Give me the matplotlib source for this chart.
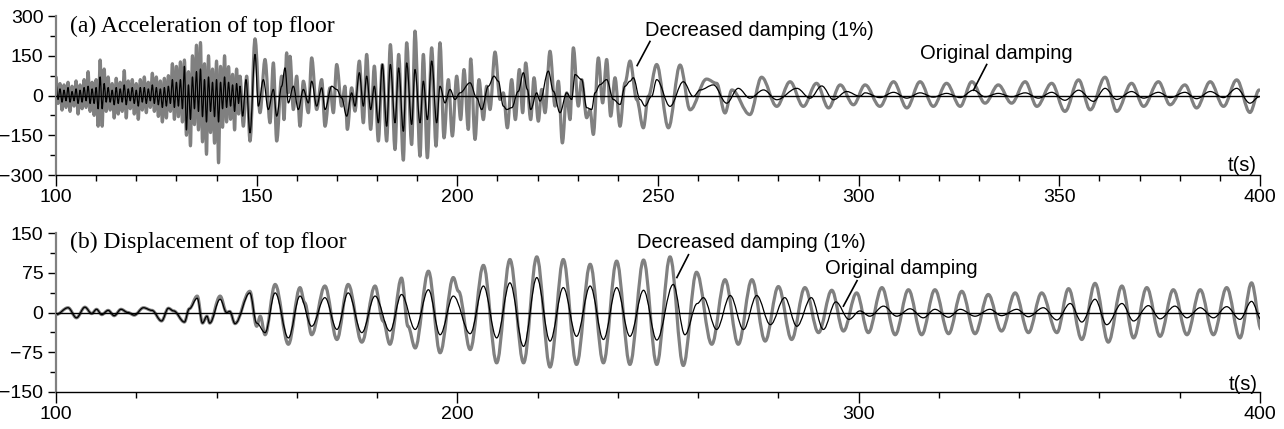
import numpy as np
import matplotlib.pyplot as plt
from matplotlib.path import Path
from matplotlib.patches import PathPatch

# ---- (a) aceleracion del ultimo piso: extremos de cada oscilacion ----
# 100-145.5 s, alta frecuencia: un extremo cada 0.5 s
acc_hf_t = np.arange(100, 146, 0.5)
acc_dec_hf = [70, -30, 45, -55, 40, -45, 50, -60, 35, -40,
              55, -70, 40, -50, 60, -45, 90, -60, 50, -75,
              60, -116, 134, -116, 100, -60, 70, -55, 45, -85,
              65, -70, 50, -60, 94, -85, 55, -50, 60, -70,
              45, -90, 60, -55, 70, -65, 50, -45, 84, -60,
              70, -79, 55, -100, 65, -85, 75, -60, 120, -90,
              110, -80, 127, -100, 134, -150, 90, -190, 150, -110,
              190, -130, 200, -175, 120, -222, 150, -140, 100, -180,
              130, -254, 110, -120, 150, -100, 109, -90, 80, -130,
              100, -70]
acc_ori_hf = [45, -15, 25, -25, 20, -20, 30, -25, 15, -20,
              25, -30, 20, -25, 30, -20, 35, -30, 25, -30,
              30, -50, 70, -50, 45, -25, 30, -25, 20, -35,
              30, -30, 25, -25, 40, -35, 25, -20, 30, -30,
              20, -40, 30, -25, 30, -30, 25, -20, 40, -30,
              30, -35, 25, -45, 30, -40, 35, -30, 60, -45,
              50, -40, 60, -50, 110, -130, 40, -90, 70, -50,
              90, -60, 100, -80, 60, -100, 70, -60, 50, -80,
              60, -100, 50, -50, 70, -45, 50, -40, 40, -60,
              45, -30]

# 145.85-400 s, extremos con su instante
acc_dec_t = [145.85, 146.68, 147.51, 148.34, 149.59, 150.83, 152.08, 153.33, 154.16, 154.99,
             156.23, 156.81, 157.48, 157.89, 158.31, 159.14, 159.97, 160.80, 161.63, 162.88,
             163.71, 164.95, 166.20, 167.03, 168.28, 169.11, 169.94, 171.18, 172.01, 172.59,
             173.67, 174.50, 175.58, 176.58, 177.41, 178.41, 179.32, 180.32, 181.31, 182.39,
             183.31, 184.47, 185.38, 186.55, 187.38, 188.62, 189.45, 190.70, 191.53, 192.53,
             193.61, 194.69, 195.68, 196.68, 197.76, 198.76, 199.84, 200.83, 201.66, 202.74,
             203.33, 204.41, 205.40, 206.48, 207.31, 208.14, 209.39, 210.63, 211.46, 212.46,
             213.54, 214.46, 215.45, 216.28, 217.03, 218.28, 219.11, 220.19, 221.02, 221.85,
             223.09, 224.34, 225.17, 226.17, 227.25, 228.08, 228.91, 230.15, 230.98, 232.23,
             233.06, 233.89, 235.14, 236.21, 237.21, 238.21, 239.29, 240.53, 241.78, 243.03,
             244.69, 246.35, 247.59, 249.67,
             252.6, 255.5, 258.0, 262.1, 264.6, 266.7, 268.4, 272.9, 275.8, 279.6,
             282.9, 286.2, 289.5, 292.5, 295.4, 298.7,
             301.6, 305.3, 308.7, 312.0, 315.3, 318.6, 321.9, 325.3, 328.2, 331.5,
             334.8, 338.1, 341.5, 344.4, 348.1, 351.4, 354.8, 357.7, 361.4, 364.3,
             368.0, 371.0, 374.7, 377.6, 381.3, 384.2, 387.6, 390.9, 394.2, 397.5,
             399.8]
acc_dec_v = [73, -116, 73, -172, 214, -65, 136, -103, 123, -172,
             73, -91, 161, 10, 148, -53, 73, -116, 54, -65,
             142, -53, 60, -116, 29, -65, 117, -40, 35, -128,
             29, -59, 130, -103, 155, -128, 111, -172, 117, -172,
             192, -204, 155, -244, 199, -185, 243, -229, 155, -235,
             180, -191, 199, -160, 60, -153, 73, -91, 98, -128,
             138, -166, 60, -91, 35, -53, 164, -15, 10, -122,
             60, -91, 98, -65, 123, -91, 67, -97, 23, -65,
             167, -40, 54, -179, 10, -91, 180, -40, 60, -84,
             -53, -147, 142, -28, 136, -78, 67, -116, 48, 130,
             -15, -122, -3, 117,
             -122, 115, -54, 62, 46, -66, 21, -72, 69, -41,
             52, -41, 46, -47, 40, -35,
             40, -41, 52, -47, 52, -41, 46, -41, 52, -29,
             40, -29, 52, -41, 46, -60, 59, -54, 69, -60,
             46, -41, 52, -35, 40, -47, 52, -41, 59, -64,
             21]
acc_ori_t = [145.85, 146.51, 147.34, 148.34, 149.59, 150.42, 151.66, 152.91, 154.16, 154.99,
             156.23, 157.06, 157.89, 159.14, 160.38, 161.63, 162.88, 163.71, 164.95, 166.20,
             167.03, 168.69, 169.94, 171.18, 172.43, 173.67, 174.50, 175.58, 176.58, 177.41,
             178.41, 179.32, 180.32, 181.31, 182.39, 183.31, 184.47, 185.38, 186.55, 187.38,
             188.62, 189.45, 190.70, 191.53, 192.53, 193.61, 194.85, 195.68, 196.93, 198.17,
             199.42, 200.67, 203.16, 204.82, 206.07, 207.73, 209.14, 210.22, 211.46, 212.30,
             213.54, 215.20, 216.45, 217.45, 218.28, 219.77, 220.60, 222.68, 223.92, 225.58,
             227.25, 228.49, 229.32, 230.98, 232.23, 233.47, 234.30, 235.55, 237.21, 238.87,
             240.53, 241.78, 243.03, 243.85, 245.52, 246.76, 248.42, 249.67,
             253.0, 256.3, 258.8, 260.5, 263.8, 267.1, 270.0, 272.9, 276.3, 279.6,
             284.6, 287.9, 290.8, 293.7, 297.0, 300.3,
             301.6, 305.3, 308.7, 312.0, 315.3, 318.6, 321.9, 325.3, 328.6, 331.5,
             334.8, 338.1, 341.5, 344.8, 348.1, 351.4, 354.8, 358.5, 361.4, 364.3,
             368.0, 371.0, 374.7, 377.6, 381.3, 384.2, 387.6, 390.9, 394.2, 397.5,
             399.8]
acc_ori_v = [35, -78, 60, -141, 155, -40, 60, -53, 23, -78,
             35, 104, -28, 35, -53, 23, -28, 54, -40, 29,
             -53, 35, 23, -9, -78, 10, -40, 86, -40, 73,
             -53, 35, -103, 117, -116, 117, -103, 104, -135, 123,
             -109, 98, -103, 54, -91, 130, -103, 35, -28, 23,
             -15, 10, 48, -9, -53, 35, 73, 54, -40, -53,
             -46, 16, 86, 23, -53, 10, -21, 92, 16, -65,
             10, -15, 79, 60, -46, -53, 10, 41, 60, -15,
             -34, 35, 54, 67, -15, -40, -3, 60,
             -41, 52, -4, 21, 40, -29, 27, -10, 21, -16,
             27, -10, 36, -16, 15, -3,
             10, -8, 12, -10, 10, -6, 8, -8, 20, -5,
             8, -5, 10, -10, 12, -18, 20, -22, 27, -15,
             15, -10, 12, -8, 12, -12, 15, -8, 27, -29,
             -5]

# ---- (b) desplazamiento del ultimo piso ----
dis_dec_t = [100.0, 103.0, 105.1, 107.2, 108.9, 110.1, 111.4, 113.0, 114.5,
             116.2, 117.9, 119.5, 121.8, 123.9, 126.3, 128.0, 129.3, 132.0,
             133.2, 135.2, 136.5, 137.6, 138.3, 140.9, 142.5, 143.3, 144.6,
             148.3, 150.0, 150.9, 152.1, 154.6, 157.9, 160.8, 162.0, 163.7,
             167.0, 170.0, 172.8, 176.2, 179.5, 181.5, 183.2, 186.1, 187.7,
             189.5, 192.8, 195.7, 199.0, 200.3, 203.2, 206.5, 209.8, 213.1,
             216.5, 219.8, 223.1, 226.4, 229.7, 233.1, 236.4, 239.7, 243.0,
             246.4, 249.7, 253.0, 256.3, 259.6, 263.4, 266.7, 270.0, 273.4,
             276.7, 280.0, 283.3, 286.6, 290.0, 293.3, 296.2, 299.5,
             302.4, 305.8, 309.1, 312.4, 315.7, 319.0, 322.4, 325.7,
             329.0, 332.3, 335.6, 339.0, 342.3, 345.6, 349.4, 352.3,
             355.6, 358.9, 362.2, 365.6, 368.5, 371.8, 375.1, 378.4,
             381.8, 385.1, 388.4, 391.7, 395.0, 397.9, 400.3]
dis_dec_v = [-4, 9, -10, 10, -2, 6, -4, 4, -6,
             6, 0, -5, 9, 4, -16, 8, 3, -18,
             7, 31, -20, -7, -20, 31, 0, 2, -21,
             40, -26, -7, -42, 53, -60, 47, 18, -42,
             50, -51, 53, -56, 50, -16, -60, 65, -26,
             -67, 78, -76, 66, 40, -70, 89, -95, 100,
             -95, 105, -103, 100, -98, 91, -95, 97, -98,
             99, -98, 105, -100, 76, -60, 62, -60, 62,
             -54, 49, -51, 47, -38, 42, -35, 37,
             -38, 47, -42, 43, -42, 43, -40, 40,
             -40, 34, -35, 37, -38, 37, -38, 45,
             -51, 55, -56, 50, -48, 47, -45, 43,
             -42, 43, -42, 47, -48, 56, -32]
dis_ori_t = [100.0, 103.0, 105.1, 107.2, 108.9, 110.1, 111.4, 113.0, 114.5,
             116.2, 117.9, 119.5, 121.8, 123.9, 126.3, 128.0, 129.3, 132.0,
             133.2, 135.2, 136.5, 137.6, 138.3, 140.9, 142.5, 143.3, 144.6,
             148.3, 150.0, 152.1, 154.6, 157.9, 160.8, 163.7, 167.0,
             170.0, 172.8, 176.2, 179.5, 183.2, 186.1, 189.5, 192.8,
             195.7, 199.0, 203.2, 206.5, 209.8, 213.1, 216.5, 219.8,
             223.1, 226.4, 229.7, 233.1, 236.4, 239.7, 243.0, 246.4,
             249.7, 253.8, 256.7, 259.8, 261.3, 264.6, 268.0, 271.3,
             274.6, 278.0, 281.6, 284.6, 288.2, 291.2, 294.3, 297.6, 300.3,
             302.8, 306.2, 309.5, 312.8, 316.1, 319.0, 322.4, 325.3,
             329.0, 332.7, 335.6, 339.4, 342.3, 346.0, 349.4, 352.7,
             355.6, 358.9, 361.8, 365.6, 368.5, 372.2, 375.1, 378.8,
             381.8, 385.1, 388.4, 391.7, 395.0, 397.9, 400.3]
dis_ori_v = [-4, 9, -10, 10, -2, 6, -4, 4, -6,
             6, 0, -5, 9, 4, -16, 8, 3, -18,
             7, 27, -20, -7, -20, 25, 0, 2, -21,
             37, -20, -38, 37, -48, 31, -26, 28,
             -32, 37, -38, 31, -35, 34, -32, 43,
             -42, 31, -40, 50, -48, 56, -64, 66,
             -54, 47, -45, 50, -51, 47, -45, 42,
             -52, 53, -42, 17, 28, -32, 32, -32,
             32, -23, 28, -26, 28, -32, 20, -13, 3,
             -7, 12, -7, 7, -10, 6, -9, 6,
             -7, 6, -6, 6, -8, 9, -14, 17,
             -18, 25, -23, 17, -16, 13, -12, 12,
             -10, 9, -10, 11, -13, 21, -13]

GRIS = '#808080'
SANS = ['Liberation Sans', 'DejaVu Sans']
SERIF = ['Liberation Serif', 'DejaVu Serif']


def curva(ax, t, v, **kw):
    # traza la senal pasando por los extremos con tangente horizontal en cada uno
    t = np.asarray(t, float)
    v = np.asarray(v, float)
    verts = [(t[0], v[0])]
    codes = [Path.MOVETO]
    for i in range(len(t) - 1):
        d = 0.36 * (t[i + 1] - t[i])
        verts += [(t[i] + d, v[i]), (t[i + 1] - d, v[i + 1]), (t[i + 1], v[i + 1])]
        codes += [Path.CURVE4] * 3
    ax.add_patch(PathPatch(Path(verts, codes), fill=False, joinstyle='round',
                           capstyle='round', **kw))


def dibujar_ejes(ax, ylim, yticks, ymenores, xticks, xmenores):
    ax.set_xlim(100, 400)
    ax.set_ylim(*ylim)
    ax.set_yticks(yticks)
    ax.set_yticks(ymenores, minor=True)
    ax.set_xticks(xticks)
    ax.set_xticks(xmenores, minor=True)
    for s in ['top', 'right']:
        ax.spines[s].set_visible(False)
    ax.spines['left'].set_color(GRIS)
    ax.spines['left'].set_linewidth(1.6)
    ax.spines['bottom'].set_linewidth(1.0)
    ax.tick_params(which='major', length=6, width=1, pad=3)
    ax.tick_params(axis='x', which='major', length=8, pad=2)
    ax.tick_params(which='minor', length=4, width=1)
    for lab in ax.get_xticklabels() + ax.get_yticklabels():
        lab.set_family(SANS)
        lab.set_fontsize(14)
    ax.axhline(0, color='black', lw=1.0, zorder=3)


fig = plt.figure(figsize=(12.84, 4.29), dpi=100)
ax1 = fig.add_axes([56 / 1284, 1 - 175 / 429, 1204 / 1284, 159 / 429])
ax2 = fig.add_axes([56 / 1284, 1 - 392 / 429, 1204 / 1284, 159 / 429])

# (a) aceleracion
curva(ax1, np.concatenate([acc_hf_t, acc_dec_t]), np.concatenate([acc_dec_hf, acc_dec_v]),
      edgecolor=GRIS, lw=2.3, zorder=1)
curva(ax1, np.concatenate([acc_hf_t, acc_ori_t]), np.concatenate([acc_ori_hf, acc_ori_v]),
      edgecolor='black', lw=0.9, zorder=2)
dibujar_ejes(ax1, (-300, 300), [-300, -150, 0, 150, 300], [-225, -75, 75, 225],
             np.arange(100, 401, 50), np.arange(100, 401, 10))

# (b) desplazamiento
curva(ax2, dis_dec_t, dis_dec_v, edgecolor=GRIS, lw=2.3, zorder=1)
curva(ax2, dis_ori_t, dis_ori_v, edgecolor='black', lw=0.9, zorder=2)
dibujar_ejes(ax2, (-150, 150), [-150, -75, 0, 75, 150], [-112.5, -37.5, 37.5, 112.5],
             np.arange(100, 401, 100), np.arange(100, 401, 20))

# rotulos y lineas de llamada
ax1.text(103.5, 238, '(a) Acceleration of top floor', family=SERIF, fontsize=17, va='baseline')
ax2.text(103.5, 121, '(b) Displacement of top floor', family=SERIF, fontsize=17, va='baseline')

ax1.text(246.8, 226, 'Decreased damping (1%)', family=SANS, fontsize=14.5, va='baseline')
ax1.plot([248.0, 244.8], [204, 113], color='black', lw=1.2)
ax1.text(315.3, 136, 'Original damping', family=SANS, fontsize=14.5, va='baseline')
ax1.plot([331.9, 328.6], [117, 20], color='black', lw=1.2)
ax1.text(399.3, -285, 't(s)', family=SANS, fontsize=14.5, ha='right', va='baseline')

ax2.text(244.7, 122, 'Decreased damping (1%)', family=SANS, fontsize=14.5, va='baseline')
ax2.plot([257.6, 254.7], [109, 66], color='black', lw=1.2)
ax2.text(291.6, 73, 'Original damping', family=SANS, fontsize=14.5, va='baseline')
ax2.plot([299.6, 296.2], [60, 12], color='black', lw=1.2)
ax2.text(399.5, -146, 't(s)', family=SANS, fontsize=14.5, ha='right', va='baseline')

fig.savefig('out.png', dpi=100)
